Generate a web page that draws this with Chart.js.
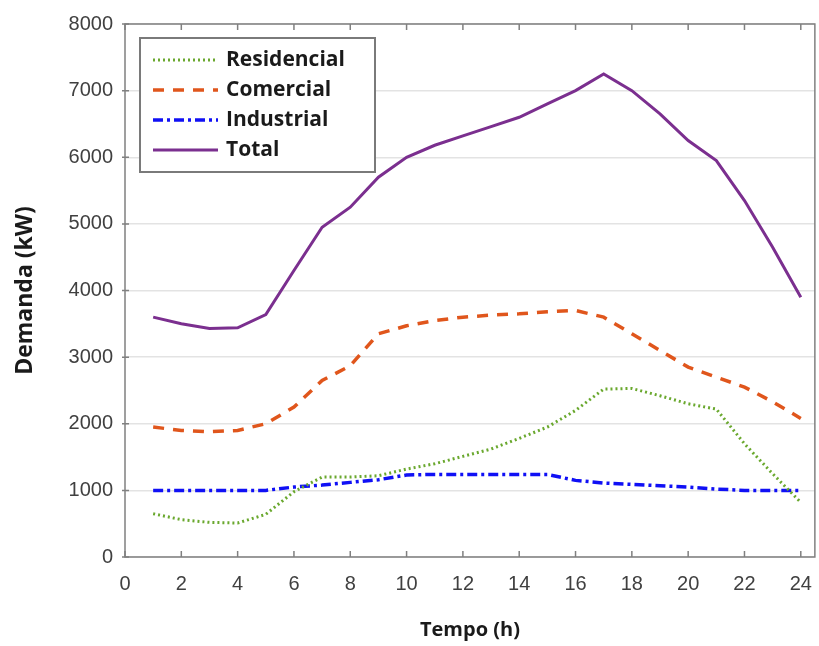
<!DOCTYPE html>
<html>
<head>
<meta charset="utf-8">
<script src="https://cdn.jsdelivr.net/npm/chart.js@4.4.1/dist/chart.umd.min.js"></script>
<style>
  html, body { margin: 0; padding: 0; background: #fff; }
  #wrap { width: 819px; height: 646px; }
</style>
</head>
<body>
<div id="wrap"><canvas id="demandaChart" width="819" height="646"></canvas></div>
<script>
// Dados (hora -> demanda em kW)
const horas       = [1, 2, 3, 4, 5, 6, 7, 8, 9, 10, 11, 12, 13, 14, 15, 16, 17, 18, 19, 20, 21, 22, 23, 24];
const residencial = [650, 560, 520, 510, 640, 980, 1200, 1200, 1220, 1320, 1400, 1510, 1620, 1780, 1950, 2200, 2520, 2530, 2420, 2300, 2220, 1700, 1250, 820];
const comercial   = [1950, 1900, 1880, 1900, 2000, 2250, 2650, 2870, 3350, 3470, 3550, 3600, 3630, 3650, 3680, 3700, 3600, 3350, 3100, 2850, 2700, 2550, 2330, 2080];
const industrial  = [1000, 1000, 1000, 1000, 1000, 1050, 1080, 1120, 1160, 1230, 1240, 1240, 1240, 1240, 1240, 1150, 1110, 1090, 1070, 1050, 1020, 1000, 1000, 1000];
const total       = [3600, 3500, 3430, 3440, 3640, 4300, 4950, 5250, 5700, 6000, 6180, 6320, 6460, 6600, 6800, 7000, 7250, 7000, 6650, 6250, 5950, 5350, 4650, 3900];
const xTicks = [0, 2, 4, 6, 8, 10, 12, 14, 16, 18, 20, 22, 24];
const yTicks = [0, 1000, 2000, 3000, 4000, 5000, 6000, 7000, 8000];

const pontos = (vals) => horas.map((h, i) => ({ x: h, y: vals[i] }));

const corEixo = '#808080';
const fonteTick = { family: 'Liberation Sans, Arial, sans-serif', size: 20 };

// Moldura, marcas de escala internas e legenda dentro da área do gráfico
const molduraPlugin = {
    id: 'moldura',
    afterDraw(chart) {
        const { ctx, chartArea: a, scales } = chart;
        ctx.save();
        ctx.strokeStyle = corEixo;
        ctx.lineWidth = 1.5;
        ctx.strokeRect(a.left, a.top, a.right - a.left, a.bottom - a.top);
        ctx.beginPath();
        xTicks.forEach(t => {
            const px = scales.x.getPixelForValue(t);
            ctx.moveTo(px, a.bottom); ctx.lineTo(px, a.bottom - 6);
            ctx.moveTo(px, a.top); ctx.lineTo(px, a.top + 6);
        });
        yTicks.forEach(t => {
            const py = scales.y.getPixelForValue(t);
            ctx.moveTo(a.left - 3, py); ctx.lineTo(a.left + 4, py);
        });
        ctx.stroke();

        // Legenda
        const bx = 140, by = 38, bw = 235, bh = 134;
        ctx.fillStyle = '#fff';
        ctx.fillRect(bx, by, bw, bh);
        ctx.strokeStyle = '#7a7a7a';
        ctx.lineWidth = 2;
        ctx.strokeRect(bx, by, bw, bh);
        chart.data.datasets.forEach((ds, i) => {
            const y = 60 + i * 30;
            ctx.beginPath();
            ctx.setLineDash(ds.borderDash || []);
            ctx.strokeStyle = ds.borderColor;
            ctx.lineWidth = ds.borderWidth;
            ctx.moveTo(153, y); ctx.lineTo(218, y);
            ctx.stroke();
            ctx.setLineDash([]);
            ctx.fillStyle = '#1a1a1a';
            ctx.font = 'bold 21px "Open Sans", sans-serif';
            ctx.textBaseline = 'middle';
            ctx.textAlign = 'left';
            ctx.fillText(ds.label, 226, y);
        });
        ctx.restore();
    }
};

const ctx = document.getElementById('demandaChart').getContext('2d');
new Chart(ctx, {
    type: 'line',
    data: {
        datasets: [
            { label: 'Residencial', data: pontos(residencial), borderColor: '#6aa82e', borderWidth: 3, borderDash: [2, 3] },
            { label: 'Comercial', data: pontos(comercial), borderColor: '#e0561c', borderWidth: 3.5, borderDash: [11, 9] },
            { label: 'Industrial', data: pontos(industrial), borderColor: '#1010f5', borderWidth: 3.5, borderDash: [10, 4, 3, 4] },
            { label: 'Total', data: pontos(total), borderColor: '#7b2f8f', borderWidth: 3 },
        ],
    },
    options: {
        responsive: false,
        animation: false,
        layout: { padding: { top: 19, right: 4, left: 0, bottom: 0 } },
        elements: { point: { radius: 0 }, line: { tension: 0, fill: false } },
        plugins: { legend: { display: false }, tooltip: { enabled: false } },
        scales: {
            x: {
                type: 'linear',
                min: 0,
                max: 24.5,
                afterBuildTicks: s => { s.ticks = xTicks.map(v => ({ value: v })); },
                afterFit: s => { s.height = 89; },
                grid: { display: false },
                border: { display: false },
                ticks: { color: '#404040', font: fonteTick, padding: 7, maxRotation: 0, callback: v => String(v) },
                title: { display: true, text: 'Tempo (h)', color: '#1a1a1a', font: { family: 'Open Sans, sans-serif', size: 20, weight: 'bold' }, padding: { top: 14 } },
            },
            y: {
                min: 0,
                max: 8000,
                afterBuildTicks: s => { s.ticks = yTicks.map(v => ({ value: v })); },
                afterFit: s => { s.width = 125; },
                grid: { color: '#e3e3e3', lineWidth: 1.5, drawTicks: false },
                border: { display: false },
                ticks: { color: '#404040', font: fonteTick, padding: 12, callback: v => String(v) },
                title: { display: true, text: 'Demanda (kW)', color: '#1a1a1a', font: { family: 'Open Sans, sans-serif', size: 23, weight: 'bold' }, padding: { top: 12, bottom: 8 } },
            },
        },
    },
    plugins: [molduraPlugin],
});
</script>
</body>
</html>
